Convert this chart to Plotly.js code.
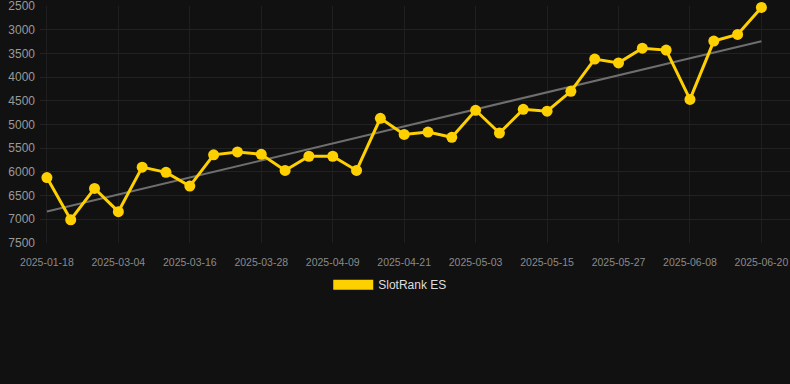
<!DOCTYPE html>
<html><head><meta charset="utf-8">
<script src="https://cdn.plot.ly/plotly-3.0.1.min.js"></script>
<style>html,body{margin:0;padding:0;background:#111111;}#chart{width:790px;height:384px;}</style>
</head><body><div id="chart"></div>
<script>
const dates = ["2025-01-18","2025-02-24","2025-02-28","2025-03-04","2025-03-08","2025-03-12","2025-03-16","2025-03-20","2025-03-24","2025-03-28","2025-04-01","2025-04-05","2025-04-09","2025-04-13","2025-04-17","2025-04-21","2025-04-25","2025-04-29","2025-05-03","2025-05-07","2025-05-11","2025-05-15","2025-05-19","2025-05-23","2025-05-27","2025-05-31","2025-06-04","2025-06-08","2025-06-12","2025-06-16","2025-06-20"];
const ranks = [6120,7010,6350,6840,5900,6010,6300,5640,5580,5630,5970,5670,5670,5970,4870,5210,5160,5270,4700,5180,4680,4720,4300,3620,3700,3390,3430,4470,3240,3100,2530];
const tickVals = ["2025-01-18","2025-03-04","2025-03-16","2025-03-28","2025-04-09","2025-04-21","2025-05-03","2025-05-15","2025-05-27","2025-06-08","2025-06-20"];
const yTicks = [2500,3000,3500,4000,4500,5000,5500,6000,6500,7000,7500];
const seriesName = "SlotRank ES";

// least-squares trend over category index
const n = ranks.length;
let sx=0, sy=0, sxx=0, sxy=0;
for (let i=0;i<n;i++){ sx+=i; sy+=ranks[i]; sxx+=i*i; sxy+=i*ranks[i]; }
const slope = (n*sxy - sx*sy)/(n*sxx - sx*sx);
const icpt = (sy - slope*sx)/n;
const trend = ranks.map((_,i)=>icpt+slope*i);

const traces = [
  {x: dates, y: trend, type:'scatter', mode:'lines', line:{color:'#6e6e6e', width:2}, showlegend:false, hoverinfo:'skip'},
  {x: dates, y: ranks, type:'scatter', mode:'lines+markers', name: seriesName,
   line:{color:'#FFD000', width:3}, marker:{color:'#FFD000', size:11}, showlegend:false, cliponaxis:false},
  {x: [null], y: [null], type:'scatter', mode:'lines', name: seriesName, line:{color:'#FFD000', width:12}, showlegend:true}
];
const layout = {
  width:790, height:384,
  paper_bgcolor:'#111111', plot_bgcolor:'#111111',
  margin:{l:40, r:0, t:6, b:141},
  font:{family:'"Liberation Sans", Arial, sans-serif', color:'#999999'},
  xaxis:{type:'category', range:[-0.29, 31.2], tickmode:'array', tickvals:tickVals, ticktext:tickVals,
    showgrid:true, gridcolor:'#1f1f1f', zeroline:false, showline:false,
    ticks:'outside', ticklen:9, tickcolor:'rgba(0,0,0,0)', tickangle:0,
    tickfont:{size:10.5, color:'#8a8a8a'}, ticklabeloverflow:'allow'},
  yaxis:{range:[7501,2499], tickmode:'array', tickvals:yTicks, ticktext:yTicks.map(String),
    showgrid:true, gridcolor:'#222222', zeroline:false, showline:false, ticks:'',
    tickfont:{size:12, color:'#999999'}, ticklabelstandoff:4, ticklabeloverflow:'allow'},
  legend:{orientation:'h', x:0.467, xanchor:'center', y:-0.115, yanchor:'top', font:{size:12, color:'#dddddd'}, itemwidth:40},
  showlegend:true
};
Plotly.newPlot('chart', traces, layout, {displayModeBar:false, staticPlot:true});
</script></body></html>
